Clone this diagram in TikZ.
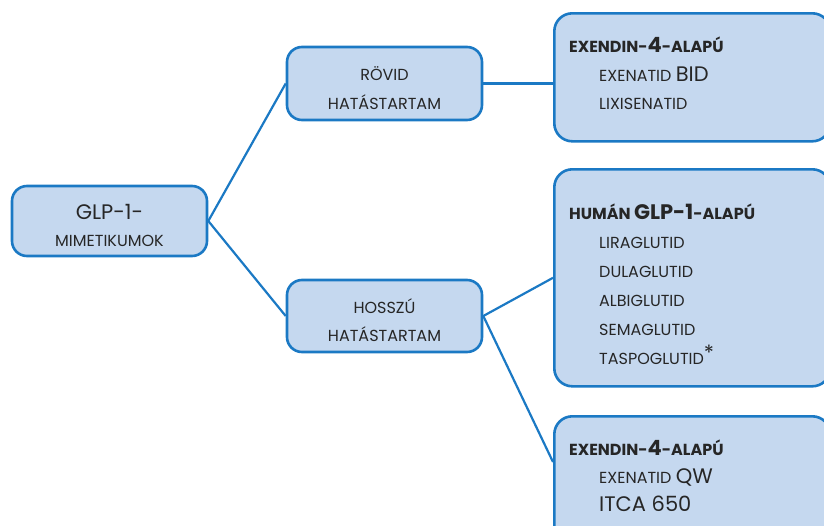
\documentclass[tikz,border=0pt]{standalone}
\usepackage{fontspec}
\setmainfont{Poppins}
\definecolor{bord}{HTML}{1B79C4}
\definecolor{boxfill}{HTML}{C5D8EF}
\definecolor{txt}{HTML}{262626}
\newcommand\bigtxt[1]{{\fontsize{21}{24}\selectfont #1}}
\tikzset{
  box/.style={draw=bord, fill=boxfill, line width=2.6pt, rounded corners=15pt, inner sep=0pt},
  bigbox/.style={box, rounded corners=18pt},
  link/.style={draw=bord, line width=2.2pt},
  lbl/.style={text=txt, inner sep=0pt, font=\fontsize{16}{19}\selectfont},
  item/.style={lbl, anchor=base west},
  head/.style={item, font=\bfseries\fontsize{16}{19}\selectfont},
}
\begin{document}
\begin{tikzpicture}[x=1pt,y=-1pt]
\useasboundingbox (0,0) rectangle (824,525);
% boxes
\node[box, minimum width=195pt, minimum height=70pt] (glp) at (109.5,221) {};
\node[box, minimum width=195pt, minimum height=73pt] (rovid) at (384.5,83.5) {};
\node[box, minimum width=195pt, minimum height=72pt] (hosszu) at (384.5,316) {};
\node[bigbox, minimum width=276pt, minimum height=128pt, anchor=north west] (b1) at (553,12) {};
\node[bigbox, minimum width=276pt, minimum height=217pt, anchor=north west] (b2) at (553,168) {};
\node[bigbox, minimum width=276pt, minimum height=130pt, anchor=north west] (b3) at (553,415) {};
\coordinate (b3in) at (553,462);
% connectors
\draw[link] (glp.east) -- (rovid.west);
\draw[link] (glp.east) -- (hosszu.west);
\draw[link] (rovid.east) -- (b1.west |- rovid.east);
\draw[link] (hosszu.east) -- (b2.west);
\draw[link] (hosszu.east) -- (b3in);
% labels
\node[lbl, anchor=base] (t1) at (109.5,219) {\bigtxt{GLP-1-}};
\node[lbl, anchor=base] (t2) at (109.5,246) {MIMETIKUMOK};
\node[lbl, anchor=base] (t3) at (384.5,80) {RÖVID};
\node[lbl, anchor=base] (t4) at (384.5,109) {HATÁSTARTAM};
\node[lbl, anchor=base] (t5) at (384.5,313) {HOSSZÚ};
\node[lbl, anchor=base] (t6) at (384.5,341) {HATÁSTARTAM};
% box 1
\node[head] (h1) at (569,52) {EXENDIN-\bigtxt{4}-ALAPÚ};
\node[item] (i11) at (599,81) {EXENATID \bigtxt{BID}};
\node[item] (i12) at (599,109) {LIXISENATID};
% box 2
\node[head] (h2) at (569,219) {HUMÁN \bigtxt{GLP-1}-ALAPÚ};
\node[item] (i21) at (599,248) {LIRAGLUTID};
\node[item] (i22) at (599,277) {DULAGLUTID};
\node[item] (i23) at (599,306) {ALBIGLUTID};
\node[item] (i24) at (599,335) {SEMAGLUTID};
\node[item] (i25) at (599,364) {TASPOGLUTID\raisebox{4pt}{\bigtxt{*}}};
% box 3
\node[head] (h3) at (569,455) {EXENDIN-\bigtxt{4}-ALAPÚ};
\node[item] (i31) at (599,483) {EXENATID \bigtxt{QW}};
\node[item] (i32) at (599,511) {\bigtxt{ITCA 650}};
\end{tikzpicture}
\end{document}
